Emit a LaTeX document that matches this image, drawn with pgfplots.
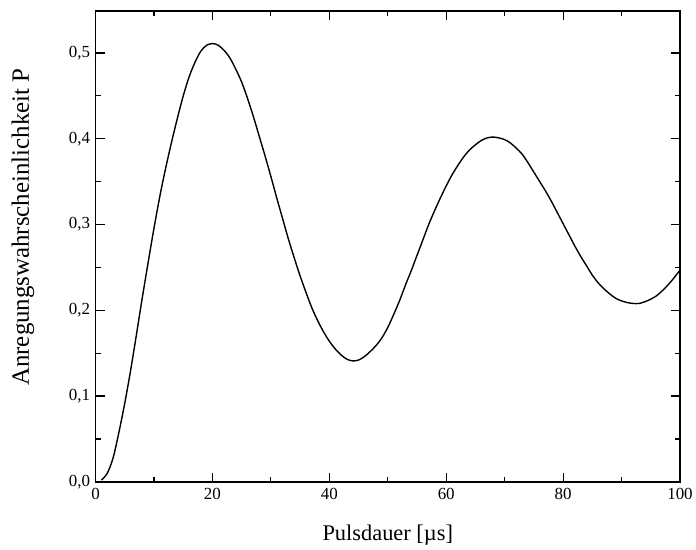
\documentclass[border=0pt]{standalone}
\usepackage{fontspec}
\setmainfont{Liberation Serif}
\usepackage{pgfplots}
\pgfplotsset{compat=1.18}
\begin{document}
\begin{tikzpicture}
\begin{axis}[
  scale only axis, width=587pt, height=473pt,
  xmin=0, xmax=100, ymin=0, ymax=0.549,
  xtick={0,20,40,60,80,100},
  ytick={0,0.1,0.2,0.3,0.4,0.5},
  minor tick num=1,
  tick align=inside, tick pos=both,
  major tick length=9pt, minor tick length=5pt,
  every tick/.style={black, line width=1.2pt},
  axis line style={line width=1.3pt},
  /pgf/number format/assume math mode=true,
  yticklabel style={/pgf/number format/fixed, /pgf/number format/fixed zerofill, /pgf/number format/precision=1, /pgf/number format/use comma, xshift=-2pt},
  ticklabel style={font=\fontsize{17}{20}\selectfont},
  xticklabel style={yshift=-3pt},
  xlabel={Pulsdauer [µs]},
  ylabel={Anregungswahrscheinlichkeit P},
  xlabel style={font=\fontsize{22.5}{26}\selectfont, at={(axis description cs:0.5,0)}, anchor=north, yshift=-40pt},
  ylabel style={font=\fontsize{25}{29}\selectfont, at={(axis description cs:0,0.541)}, anchor=south, yshift=58pt},
  clip=true,
]
\addplot[black, line width=1.4pt, smooth] coordinates {
(1,0.002) (2,0.010) (3,0.028) (4,0.058) (5,0.092) (6,0.130) (7,0.172) (8,0.215)
(9,0.256) (10,0.296) (11,0.333) (12,0.366) (13,0.396) (14,0.424) (15,0.450)
(16,0.472) (17,0.489) (18,0.502) (19,0.509) (20,0.511) (21,0.509) (22,0.503)
(23,0.494) (24,0.481) (25,0.466) (26,0.447) (27,0.426) (28,0.403) (29,0.380)
(30,0.356) (31,0.331) (32,0.307) (33,0.283) (34,0.261) (35,0.240) (36,0.221)
(37,0.203) (38,0.188) (39,0.175) (40,0.164) (41,0.155) (42,0.148) (43,0.143)
(44,0.141) (45,0.142) (46,0.146) (47,0.152) (48,0.159) (49,0.168) (50,0.180)
(51,0.195) (52,0.211) (53,0.229) (54,0.246) (55,0.264) (56,0.282) (57,0.300)
(58,0.316) (59,0.331) (60,0.345) (61,0.358) (62,0.369) (63,0.379) (64,0.387)
(65,0.393) (66,0.398) (67,0.401) (68,0.402) (69,0.401) (70,0.399) (71,0.395)
(72,0.389) (73,0.382) (74,0.372) (75,0.361) (76,0.350) (77,0.339) (78,0.327)
(79,0.314) (80,0.301) (81,0.288) (82,0.275) (83,0.263) (84,0.252) (85,0.241)
(86,0.232) (87,0.225) (88,0.219) (89,0.214) (90,0.211) (91,0.209) (92,0.208)
(93,0.208) (94,0.210) (95,0.213) (96,0.217) (97,0.223) (98,0.230) (99,0.238)
(100,0.247)
};
\end{axis}
\path (current axis.south west) ++(-96pt,-68pt) rectangle ++(696pt,552pt);
\end{tikzpicture}
\end{document}
